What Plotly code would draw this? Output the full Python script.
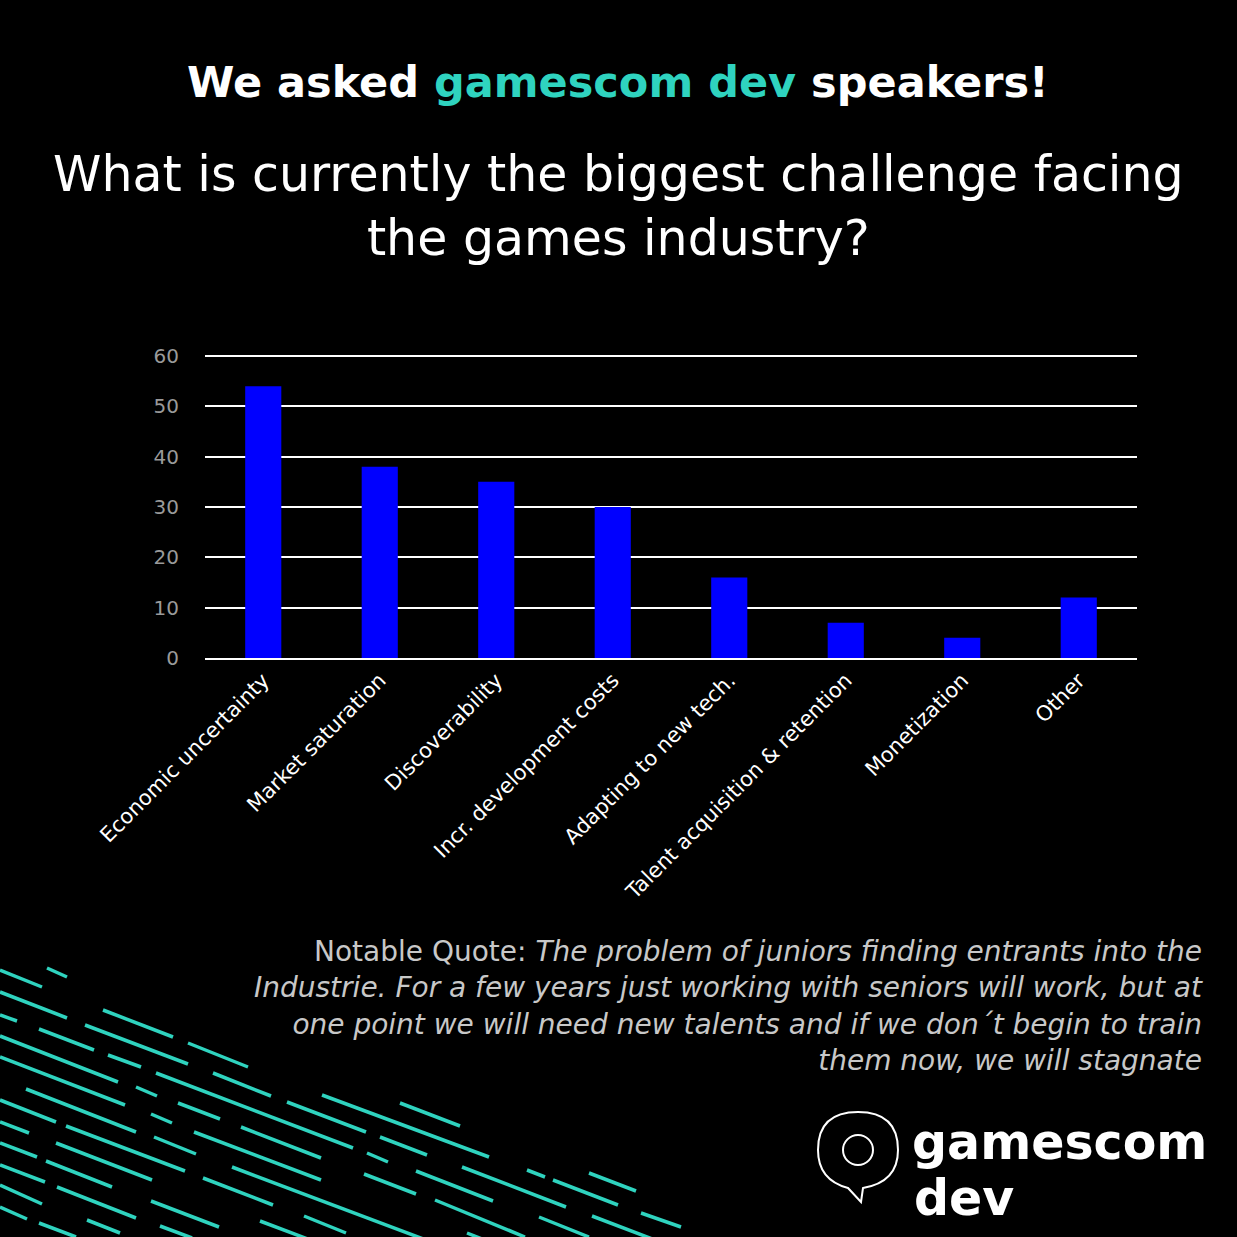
import plotly.graph_objects as go

categories = ["Economic uncertainty", "Market saturation", "Discoverability",
              "Incr. development costs", "Adapting to new tech.",
              "Talent acquisition & retention", "Monetization", "Other"]
values = [54, 38, 35, 30, 16, 7, 4, 12]
y_ticks = [0, 10, 20, 30, 40, 50, 60]

W = H = 1237
L, R, T, B = 205, 100, 353, 579
PW, PH = W - L - R, H - T - B

def px(x): return (x - L) / PW
def py(y): return (H - B - y) / PH

fig = go.Figure(go.Bar(x=categories, y=values, marker_color="#0000ff",
                       marker_line_width=0, width=0.31))

teal = "#2fd3bf"
dashes = [
    (0,970,42,987),(47,968,67,977),(0,992,67,1018),(103,1010,173,1037),(0,1015,17,1021),
    (39,1029,94,1050),(85,1025,188,1064),(188,1043,248,1067),(0,1036,118,1082),
    (108,1055,141,1067),(0,1057,125,1105),(156,1073,353,1148),(213,1073,271,1096),
    (136,1087,157,1096),(26,1089,136,1132),(0,1100,56,1122),(178,1103,220,1119),
    (287,1102,366,1132),(322,1095,489,1157),(400,1103,460,1126),(151,1114,172,1123),
    (0,1122,29,1133),(66,1126,185,1171),(154,1137,196,1154),(194,1132,321,1180),
    (241,1127,321,1158),(380,1137,427,1155),(367,1153,388,1162),(0,1143,37,1157),
    (56,1143,152,1180),(0,1165,45,1182),(46,1161,112,1187),(203,1178,273,1205),
    (232,1167,442,1246),(364,1174,416,1194),(416,1171,493,1201),(462,1167,566,1207),
    (527,1170,545,1177),(553,1180,618,1205),(589,1173,636,1191),(641,1213,681,1227),
    (592,1216,655,1240),(539,1217,589,1237),(435,1200,525,1237),(304,1216,346,1233),
    (260,1221,313,1241),(151,1201,219,1227),(87,1220,120,1233),(57,1187,136,1218),
    (0,1185,42,1204),(0,1207,27,1219),(39,1223,76,1237),(160,1226,192,1238),(467,1233,482,1239),
]
shapes = [dict(type="line", xref="paper", yref="paper", x0=px(a), y0=py(b), x1=px(c), y1=py(d),
               line=dict(color=teal, width=3.5)) for a, b, c, d in dashes]
cx, cy = 858, 1150
shapes.append(dict(type="path", xref="paper", yref="paper",
                   path=" ".join([
                       f"M{px(cx-10)},{py(cy+38)}",
                       f"Q{px(cx-40)},{py(cy+30)} {px(cx-40)},{py(cy)}",
                       f"Q{px(cx-40)},{py(cy-38)} {px(cx)},{py(cy-38)}",
                       f"Q{px(cx+40)},{py(cy-38)} {px(cx+40)},{py(cy)}",
                       f"Q{px(cx+40)},{py(cy+32)} {px(cx+5)},{py(cy+38)}",
                       f"L{px(cx+3)},{py(cy+52)} Z"]),
                   line=dict(color="white", width=2)))
shapes.append(dict(type="circle", xref="paper", yref="paper",
                   x0=px(cx-15), x1=px(cx+15), y0=py(cy-15), y1=py(cy+15),
                   line=dict(color="white", width=2)))

ann = [
    dict(x=px(618), y=py(82), text="We asked <span style='color:#2fd3bf'>gamescom dev</span> speakers!",
         font=dict(family="DejaVu Sans", size=43, color="white", weight=700)),
    dict(x=px(618), y=py(206), text="What is currently the biggest challenge facing<br>the games industry?",
         font=dict(family="DejaVu Sans", size=49, color="white")),
    dict(x=px(1205), y=py(1006), xanchor="right", align="right",
         text="Notable Quote: <i>The problem of juniors finding entrants into the<br>Industrie. For a few years just working with seniors will work, but at<br>one point we will need new talents and if we don´t begin to train<br>them now, we will stagnate</i>",
         font=dict(family="DejaVu Sans", size=28, color="#c8c8c8")),
    dict(x=px(910), y=py(1142), xanchor="left", text="<b>gamescom</b>",
         font=dict(family="DejaVu Sans", size=49, color="white")),
    dict(x=px(912), y=py(1198), xanchor="left", text="<b>dev</b>",
         font=dict(family="DejaVu Sans", size=49, color="white")),
]
for a in ann:
    a.update(xref="paper", yref="paper", showarrow=False)
    a.setdefault("yanchor", "middle")
    a.setdefault("xanchor", "center")

fig.update_layout(
    width=W, height=H, margin=dict(l=L, r=R, t=T, b=B),
    paper_bgcolor="black", plot_bgcolor="black", showlegend=False,
    shapes=shapes, annotations=ann,
    font=dict(family="DejaVu Sans", color="white"),
    xaxis=dict(tickangle=-45, tickfont=dict(size=21, color="white"), showgrid=False,
               showline=True, linecolor="white", linewidth=1.5),
    yaxis=dict(range=[0, 60.6], tickvals=y_ticks, tickfont=dict(size=20, color="#9a9a9a"),
               gridcolor="white", gridwidth=1.5, zeroline=False, ticklabelstandoff=25),
)
fig.write_html("out.html", config={"displayModeBar": False},
               post_script="document.body.style.margin='0';document.body.style.background='black';")
